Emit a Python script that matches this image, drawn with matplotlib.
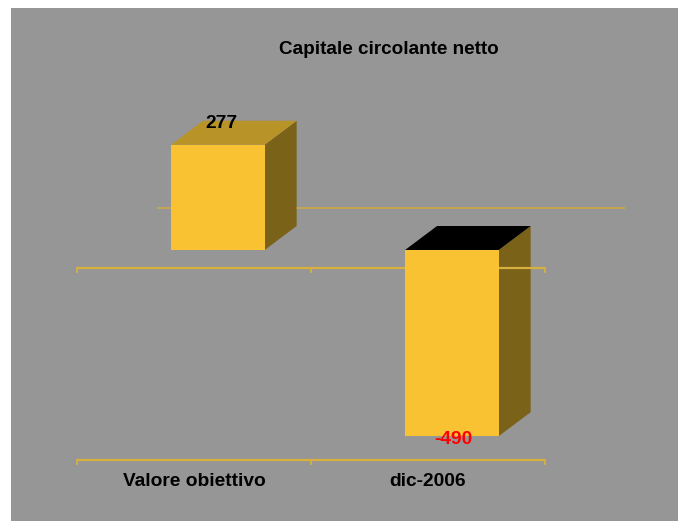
import matplotlib
matplotlib.use("Agg")
import matplotlib.pyplot as plt
from matplotlib.patches import Polygon, Rectangle

# ---- data ----
categories = ["Valore obiettivo", "dic-2006"]
values = [277, -490]
value_labels = ["277", "-490"]
label_colors = ["#000000", "#FF0000"]
title = "Capitale circolante netto"

# ---- style / layout ----
W, H, DPI = 678, 521, 100
PX_PER_UNIT = 0.38          # pixels per value unit
ZERO_PX = 250               # pixel row of the front zero plane
CAT_PX = 234                # pixels per category
X0_PX = 77                  # left end of the category axis
FRONT = "#F8C232"
TOP_POS = "#B89428"
TOP_NEG = "#000000"
SIDE = "#7A6219"
LINE = "#D8B040"
BG = "#969696"
FONT = "Liberation Sans"

bar_left = -0.098
bar_w = 0.40
dx = 32 / CAT_PX
dy = 24 / PX_PER_UNIT

fig = plt.figure(figsize=(W / DPI, H / DPI), dpi=DPI, facecolor="white")
fig.patches.append(Rectangle((11 / W, 0), 1, 1 - 8 / H, transform=fig.transFigure,
                             facecolor=BG, edgecolor="none", zorder=-10))
ax = fig.add_axes([0, 0, 1, 1])
ax.set_zorder(5)
ax.set_axis_off()
ax.patch.set_visible(False)
ax.set_xlim(-0.5 - X0_PX / CAT_PX, -0.5 + (W - X0_PX) / CAT_PX)
ax.set_ylim(-(H - ZERO_PX) / PX_PER_UNIT, ZERO_PX / PX_PER_UNIT)

def px_x(p):
    return (p - X0_PX) / CAT_PX - 0.5

def px_v(p):
    return (ZERO_PX - p) / PX_PER_UNIT

# back wall line
ax.plot([px_x(157), px_x(625)], [px_v(208)] * 2, color="#C8A848", lw=1.3, zorder=1,
        solid_capstyle="butt")

for i, v in enumerate(values):
    x0 = i + bar_left
    x1 = x0 + bar_w
    top = max(v, 0)
    bot = min(v, 0)
    # side face
    ax.add_patch(Polygon([(x1, bot), (x1 + dx, bot + dy), (x1 + dx, top + dy), (x1, top)],
                         closed=True, facecolor=SIDE, edgecolor="none", zorder=2))
    # top face
    ax.add_patch(Polygon([(x0, top), (x0 + dx, top + dy), (x1 + dx, top + dy), (x1, top)],
                         closed=True, facecolor=TOP_POS if v >= 0 else TOP_NEG,
                         edgecolor="none", zorder=2))

# category axis lines (floor)
ncat = len(categories)
tick_len = 4 / PX_PER_UNIT
for yy in (px_v(268), px_v(460)):
    ax.plot([-0.5, ncat - 0.5], [yy, yy], color=LINE, lw=1.6, zorder=3,
            solid_capstyle="butt")
    for k in range(ncat + 1):
        ax.plot([k - 0.5, k - 0.5], [yy, yy - tick_len], color=LINE, lw=1.3, zorder=3)

for i, v in enumerate(values):
    x0 = i + bar_left
    ax.add_patch(Rectangle((x0, min(v, 0)), bar_w, abs(v), facecolor=FRONT,
                           edgecolor="none", zorder=4))

# value labels
lab_pos = [(px_x(221), px_v(123)), (px_x(453), px_v(440))]
for i, (txt, col) in enumerate(zip(value_labels, label_colors)):
    ax.text(lab_pos[i][0], lab_pos[i][1], txt, color=col, fontsize=13.8,
            fontweight="bold", family=FONT, ha="center", va="center", zorder=5)

for i, c in enumerate(categories):
    ax.text(i, px_v(481), c, fontsize=13.8, fontweight="bold", family=FONT,
            ha="center", va="center", color="#000000")

ax.text(px_x(388.5), px_v(50), title, fontsize=13.6, fontweight="bold",
        family=FONT, ha="center", va="center", color="#000000")

fig.savefig("out.png", dpi=DPI)
